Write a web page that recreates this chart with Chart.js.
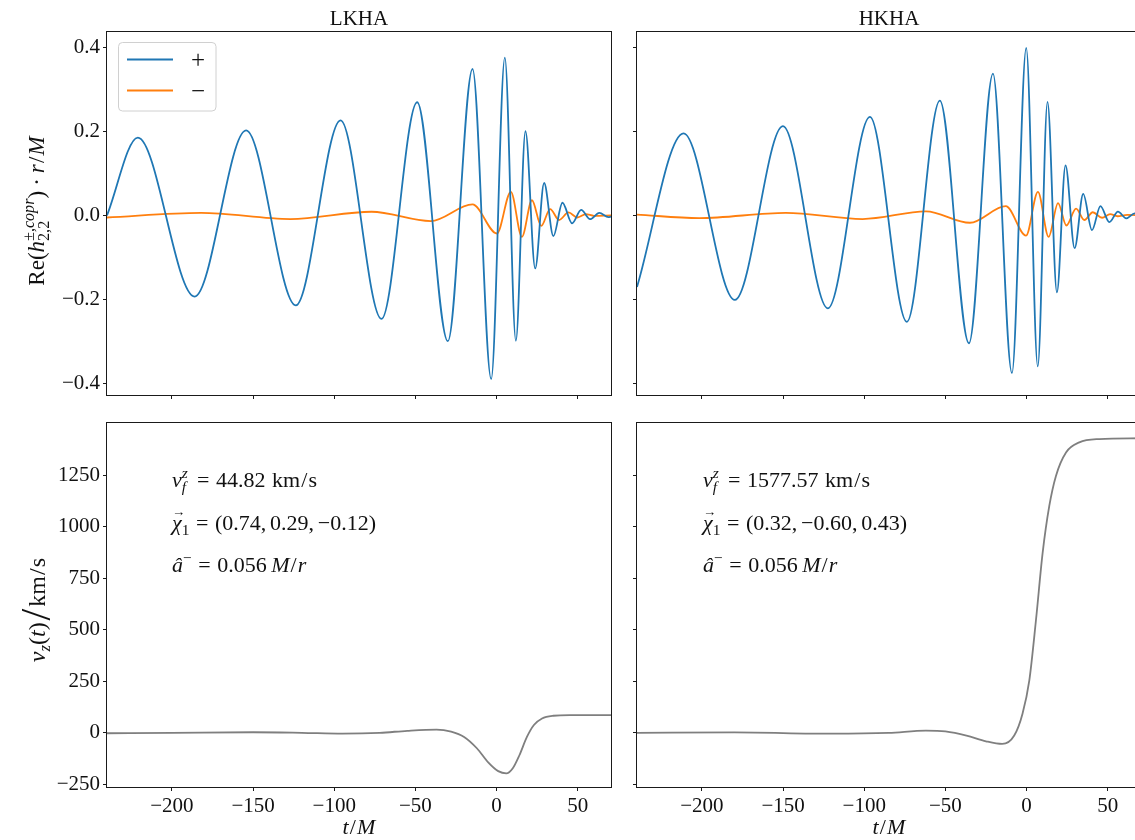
<!DOCTYPE html>
<html>
<head>
<meta charset="utf-8">
<script src="https://cdn.jsdelivr.net/npm/chart.js@4/dist/chart.umd.min.js"></script>
<style>
  html, body { margin: 0; padding: 0; background: #fff; overflow: hidden; }
  #wrap { position: relative; width: 1145px; height: 840px; }
  #wrap canvas { position: absolute; left: 0; top: 0; }
</style>
</head>
<body>
<div id="wrap"></div>
<script>
// ---- tick positions ----
const tTicks = [-200, -150, -100, -50, 0, 50];
const hTicks = [-0.4, -0.2, 0.0, 0.2, 0.4];
const vTicks = [-250, 0, 250, 500, 750, 1000, 1250];

// ---- strain Re(h_{2,2}) * r/M: end points and successive extrema, [t/M, value] ----
const lkhaPlus = [[-240,0.000],[-221.0,0.185],[-186.0,-0.193],[-154.3,0.202],[-123.7,-0.214],[-96.1,0.226],
  [-70.9,-0.246],[-48.9,0.269],[-30.0,-0.299],[-14.8,0.348],[-3.3,-0.389],[5.1,0.375],[11.9,-0.298],
  [17.8,0.200],[23.8,-0.126],[29.3,0.077],[35.0,-0.049],[40.6,0.030],[46.5,-0.019],[52.1,0.013],
  [57.6,-0.009],[63.3,0.006],[68.9,-0.004],[70.5,-0.003]];
const lkhaMinus = [[-240,-0.005],[-182,0.006],[-127,-0.0087],[-77,0.0087],[-40.5,-0.0135],[-14.8,0.026],
  [0.2,-0.043],[8.8,0.056],[15.6,-0.051],[21.8,0.036],[27.5,-0.025],[33.0,0.015],[38.5,-0.011],[44.3,0.007],
  [49.8,-0.005],[55.0,0.003],[60.0,-0.001],[70.5,0]];
const hkhaPlus = [[-240,-0.170],[-211.3,0.195],[-179.7,-0.201],[-150.1,0.212],[-122.4,-0.221],[-96.5,0.234],
  [-73.7,-0.253],[-53.4,0.273],[-35.5,-0.304],[-20.7,0.337],[-9.0,-0.375],[-0.2,0.398],[6.9,-0.359],
  [12.9,0.270],[18.7,-0.183],[24.0,0.119],[29.6,-0.078],[34.9,0.051],[40.3,-0.035],[45.5,0.022],
  [51.0,-0.016],[56.3,0.009],[61.4,-0.007],[66.6,0.005],[70.5,-0.002]];
const hkhaMinus = [[-240,0.002],[-201.7,-0.0065],[-148.3,0.006],[-101,-0.0087],[-62,0.0095],[-34.9,-0.0175],
  [-12.8,0.022],[-0.3,-0.048],[7.0,0.056],[13.6,-0.051],[19.4,0.029],[24.5,-0.024],[30.5,0.016],
  [35.6,-0.011],[40.8,0.0075],[46.5,-0.0056],[51.5,0.003],[56.0,-0.002],[62.0,0.001],[70.5,0]];

// ---- kick velocity v_z(t) in km/s ----
const lkhaKick = [[-240,-2],[-200,0],[-150,3],[-120,0],[-95,-4],[-72,0],[-55,10],[-37,16],[-28,6],[-20,-20],
  [-12,-76],[-5,-145],[1,-186],[6,-197],[10,-172],[14,-110],[18.7,-20],[23,38],[28,70],[35,83],[45,86],[70.5,86]];
const hkhaKick = [[-240,0],[-180,2],[-120,-4],[-85,0],[-62,11],[-50,7],[-37,-13],[-25,-41],[-15,-54],[-7.6,-13],
  [-2.5,93],[1.7,255],[5.8,548],[9.9,874],[14,1102],[18.1,1248],[24.3,1362],[32.5,1411],[44.8,1427],[70.5,1431]];

// ---- panel texts ----
const titles = ['LKHA', 'HKHA'];
const seriesLabels = ['+', '\u2212'];
const kickText = {
  LKHA: { vf: '44.82', chi: ['0.74', '0.29', '\u22120.12'], a: '0.056' },
  HKHA: { vf: '1577.57', chi: ['0.32', '\u22120.60', '0.43'], a: '0.056' }
};

// ---- styling / geometry ----
const W = 1145, H = 840;
const SERIF = '"Liberation Serif", "Times New Roman", serif';
const INK = '#111';
const BLUE = '#1f77b4', ORANGE = '#ff7f0e', GREY = '#7f7f7f';
const Y_W = 60, X_H = 45;
const T_MIN = -240, T_MAX = 70.5;
const H_MIN = -0.427, H_MAX = 0.436;
const V_MIN = -263, V_MAX = 1505;
const boxes = {
  tl: { left: 107, top: 32, right: 611, bottom: 395 },
  tr: { left: 637, top: 32, right: 1141, bottom: 395 },
  bl: { left: 107, top: 423, right: 611, bottom: 787 },
  br: { left: 637, top: 423, right: 1141, bottom: 787 }
};

const minus = s => s.replace('-', '\u2212');
const fmtT = v => minus(String(v));
const fmtH = v => minus((Math.abs(v) < 1e-9 ? 0 : v).toFixed(1));
const fmtV = v => minus(String(v));
const pts = arr => arr.map(([x, y]) => ({ x, y }));

// --- small math-text renderer (runs of roman / italic text with scripts) ---
function fnt(st, px) { return (st === 'i' ? 'italic ' : '') + px.toFixed(2) + 'px ' + SERIF; }
function runMath(ctx, items, px, x, y, draw) {
  let cx = 0;
  for (const it of items) {
    if (Array.isArray(it)) {
      const [t, st, sc = 1, dy = 0] = it;
      ctx.font = fnt(st, px * sc);
      if (draw) ctx.fillText(t, x + cx, y - dy * px);
      cx += ctx.measureText(t).width;
    } else if (it.gap !== undefined) {
      cx += it.gap * px;
    } else if (it.over) {
      const wb = runMath(ctx, [it.base], px, x + cx, y, draw);
      if (draw) {
        ctx.font = fnt('r', px * 0.6);
        const wo = ctx.measureText(it.over).width;
        ctx.fillText(it.over, x + cx + (wb - wo) / 2 + 0.08 * px, y - 0.62 * px);
      }
      cx += wb;
    } else {
      const ws = it.sup ? runMath(ctx, it.sup, px * 0.7, x + cx, y - 0.42 * px, draw) : 0;
      const wd = it.sub ? runMath(ctx, it.sub, px * 0.7, x + cx, y + 0.24 * px, draw) : 0;
      cx += Math.max(ws, wd);
    }
  }
  return cx;
}
function mathText(ctx, items, px, x, y, align, rotate) {
  ctx.save();
  ctx.fillStyle = INK;
  ctx.textAlign = 'left';
  ctx.textBaseline = 'alphabetic';
  const w = runMath(ctx, items, px, 0, 0, false);
  ctx.translate(x, y);
  if (rotate) ctx.rotate(-Math.PI / 2);
  runMath(ctx, items, px, align === 'center' ? -w / 2 : 0, 0, true);
  ctx.restore();
}

const EQ = [{ gap: 0.3 }, ['=', 'r'], { gap: 0.3 }];
const SLASH = [{ gap: 0.05 }, ['/', 'r'], { gap: 0.05 }];
const strainLabel = [['Re(', 'r'], ['h', 'i'],
  { sup: [['\u00b1', 'r'], [',', 'r'], ['copr', 'i']], sub: [['2,2', 'r']] },
  [')', 'r'], { gap: 0.22 }, ['\u00b7', 'r'], { gap: 0.22 }, ['r', 'i'], ...SLASH, ['M', 'i']];
const kickLabel = [['v', 'i'], { sub: [['z', 'i']] }, ['(', 'r'], ['t', 'i'], [')', 'r'], { gap: 0.08 },
  ['/', 'r', 1.75, -0.22], { gap: 0.08 }, ['km', 'r'], ...SLASH, ['s', 'r']];
const timeLabel = [['t', 'i'], ...SLASH, ['M', 'i']];

function kickNotes(ctx, key, x) {
  const k = kickText[key];
  const px = 22;
  mathText(ctx, [['v', 'i'], { sup: [['z', 'i']], sub: [['f', 'i']] }, { gap: 0.12 }, ...EQ,
    [k.vf, 'r'], { gap: 0.3 }, ['km', 'r'], ...SLASH, ['s', 'r']], px, x, 487);
  mathText(ctx, [{ over: '\u2192', base: ['\u03c7', 'i'] }, { sub: [['1', 'r']] }, ...EQ,
    ['(' + k.chi[0] + ',', 'r'], { gap: 0.17 }, [k.chi[1] + ',', 'r'], { gap: 0.17 }, [k.chi[2] + ')', 'r']],
    px, x, 530);
  mathText(ctx, [['\u00e2', 'i'], { sup: [['\u2212', 'r']] }, ...EQ, [k.a, 'r'], { gap: 0.2 },
    ['M', 'i'], ...SLASH, ['r', 'i']], px, x, 572);
}

function drawTitle(ctx, text, cx) {
  ctx.save();
  ctx.fillStyle = INK;
  ctx.font = '21px ' + SERIF;
  ctx.textAlign = 'center';
  ctx.textBaseline = 'alphabetic';
  ctx.fillText(text, cx, 25);
  ctx.restore();
}

function drawLegend(ctx, chart) {
  const x = 118.5, y = 42.5, w = 97.5, h = 68.5, r = 4;
  ctx.save();
  ctx.beginPath();
  ctx.roundRect(x, y, w, h, r);
  ctx.fillStyle = 'rgba(255,255,255,0.8)';
  ctx.fill();
  ctx.strokeStyle = '#d0d0d0';
  ctx.lineWidth = 1;
  ctx.stroke();
  const rows = [59.5, 90.5];
  chart.data.datasets.forEach((ds, i) => {
    ctx.beginPath();
    ctx.moveTo(127, rows[i]);
    ctx.lineTo(173, rows[i]);
    ctx.strokeStyle = ds.borderColor;
    ctx.lineWidth = 1.8;
    ctx.stroke();
    ctx.fillStyle = INK;
    ctx.font = '25px ' + SERIF;
    ctx.textAlign = 'center';
    ctx.textBaseline = 'alphabetic';
    ctx.fillText(ds.label, 198, rows[i] + 8.5);
  });
  ctx.restore();
}

function frame(ctx, ca) {
  ctx.save();
  ctx.strokeStyle = '#1a1a1a';
  ctx.lineWidth = 1;
  ctx.strokeRect(ca.left - 0.5, ca.top - 0.5, ca.right - ca.left + 1, ca.bottom - ca.top + 1);
  ctx.restore();
}

function axisX(showLabels) {
  return {
    type: 'linear', min: T_MIN, max: T_MAX,
    afterBuildTicks: s => { s.ticks = tTicks.map(v => ({ value: v })); },
    afterFit: s => { s.height = X_H; },
    ticks: { display: showLabels, callback: fmtT, padding: 3, maxRotation: 0, autoSkip: false,
      color: INK, font: { family: SERIF, size: 21 } },
    grid: { display: true, drawOnChartArea: false, drawTicks: true, tickLength: 4, tickColor: '#1a1a1a', tickWidth: 1 },
    border: { display: false }
  };
}
function axisY(min, max, ticks, fmt, showLabels) {
  return {
    type: 'linear', min, max,
    afterBuildTicks: s => { s.ticks = ticks.map(v => ({ value: v })); },
    afterFit: s => { s.width = Y_W; },
    ticks: { display: showLabels, callback: fmt, padding: 3, autoSkip: false,
      color: INK, font: { family: SERIF, size: 21 } },
    grid: { display: true, drawOnChartArea: false, drawTicks: true, tickLength: 4, tickColor: '#1a1a1a', tickWidth: 1 },
    border: { display: false }
  };
}

// smooth monotone cubic through the listed points (flat at every extremum)
function series(label, data, color) {
  return { label, data: pts(data), borderColor: color, backgroundColor: color, borderWidth: 1.8,
    pointRadius: 0, cubicInterpolationMode: 'monotone', fill: false };
}

function panel(key, datasets, xLabels, yAxis, deco) {
  const b = boxes[key];
  const cv = document.createElement('canvas');
  cv.width = W; cv.height = H;
  cv.style.width = W + 'px'; cv.style.height = H + 'px';
  document.getElementById('wrap').appendChild(cv);
  return new Chart(cv, {
    type: 'line',
    data: { datasets },
    options: {
      responsive: false, devicePixelRatio: 1, animation: false, events: [],
      layout: { padding: { left: b.left - Y_W, top: b.top, right: W - b.right, bottom: H - b.bottom - X_H } },
      scales: { x: axisX(xLabels), y: yAxis },
      plugins: { legend: { display: false }, tooltip: { enabled: false }, title: { display: false } }
    },
    plugins: [{ id: 'deco', afterDraw(chart) { frame(chart.ctx, chart.chartArea); deco(chart.ctx, chart); } }]
  });
}

Chart.defaults.font.family = SERIF;

// top left: LKHA strain
panel('tl', [series(seriesLabels[0], lkhaPlus, BLUE), series(seriesLabels[1], lkhaMinus, ORANGE)], false,
  axisY(H_MIN, H_MAX, hTicks, fmtH, true), (ctx, chart) => {
    drawTitle(ctx, titles[0], 359);
    mathText(ctx, strainLabel, 23, 43.5, 211, 'center', true);
    drawLegend(ctx, chart);
  });
// top right: HKHA strain
panel('tr', [series(seriesLabels[0], hkhaPlus, BLUE), series(seriesLabels[1], hkhaMinus, ORANGE)], false,
  axisY(H_MIN, H_MAX, hTicks, fmtH, false), (ctx) => {
    drawTitle(ctx, titles[1], 889);
  });
// bottom left: LKHA kick
panel('bl', [series('v_z', lkhaKick, GREY)], true,
  axisY(V_MIN, V_MAX, vTicks, fmtV, true), (ctx) => {
    mathText(ctx, kickLabel, 24, 44.5, 610, 'center', true);
    mathText(ctx, timeLabel, 22, 359, 834, 'center', false);
    kickNotes(ctx, 'LKHA', 172);
  });
// bottom right: HKHA kick
panel('br', [series('v_z', hkhaKick, GREY)], true,
  axisY(V_MIN, V_MAX, vTicks, fmtV, false), (ctx) => {
    mathText(ctx, timeLabel, 22, 889, 834, 'center', false);
    kickNotes(ctx, 'HKHA', 703);
  });
</script>
</body>
</html>
